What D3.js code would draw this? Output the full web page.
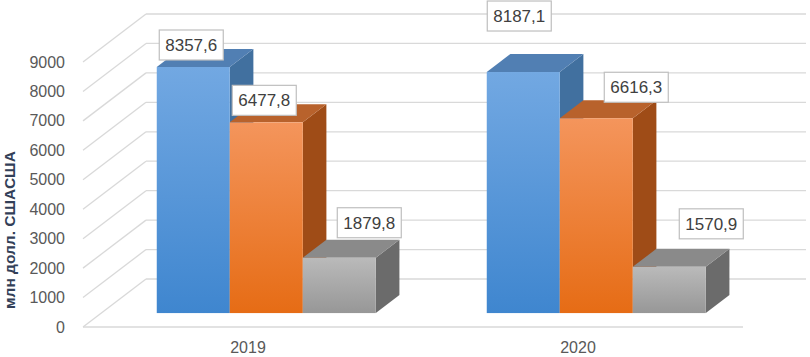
<!DOCTYPE html>
<html lang="ru">
<head>
<meta charset="UTF-8">
<title>3D column chart</title>
<style>
  body { margin: 0; background: #fff; }
  svg { display: block; font-family: "Liberation Sans", Arial, sans-serif; }
</style>
</head>
<body>
<svg id="chart" width="810" height="357"></svg>
<script src="https://d3js.org/d3.v7.min.js"></script>
<script>
// data
const years = ["2019", "2020"];
const seriesNames = ["s1", "s2", "s3"];
const values2019 = [8357.6, 6477.8, 1879.8];
const values2020 = [8187.1, 6616.3, 1570.9];
const yTicks = [0, 1000, 2000, 3000, 4000, 5000, 6000, 7000, 8000, 9000];
const yTitle = "млн долл. СШАСША";

// label nudges relative to bar top (labels were dragged by hand in the original)
const labelShift = [
  [[-2, -22], [-2, -22], [30, -35]],
  [[-4, -56], [40, -31], [42, -43]]
];

const rows = [values2019, values2020];

// colours per series: front gradient top/bottom, top face, side face
const palette = [
  { a: "#72a8e2", b: "#3f86cf", top: "#517fb3", side: "#41709f" },
  { a: "#f4955c", b: "#e66c15", top: "#b8622c", side: "#9f4c17" },
  { a: "#bababa", b: "#979797", top: "#8a8a8a", side: "#6b6b6b" }
];

const svg = d3.select("#chart");

// oblique projection: depth vector of the whole floor
const depth = { x: 63, y: -48 };
const barT0 = 0.29, barT1 = 0.665;

const x = d3.scaleBand().domain(years).range([83, 743]);
const xs = d3.scaleBand().domain(seriesNames).range([0, x.bandwidth()]).paddingOuter(0.76);
const y = d3.scaleLinear().domain([0, 9000]).range([327, 62]);

const P = (px, v, t) => [px + depth.x * t, y(v) + depth.y * t];

// gradients
const defs = svg.append("defs");
palette.forEach((c, i) => {
  const g = defs.append("linearGradient").attr("id", "g" + i)
    .attr("x1", 0).attr("y1", 0).attr("x2", 0).attr("y2", 1);
  g.append("stop").attr("offset", "0%").attr("stop-color", c.a);
  g.append("stop").attr("offset", "100%").attr("stop-color", c.b);
});

const grid = svg.append("g").attr("stroke", "#d9d9d9").attr("stroke-width", 1.3).attr("fill", "none");

// back wall gridlines
grid.selectAll(".back").data(yTicks).join("line")
  .attr("x1", P(83, 0, 1)[0]).attr("x2", P(743, 0, 1)[0])
  .attr("y1", d => P(0, d, 1)[1]).attr("y2", d => P(0, d, 1)[1]);

// side wall gridlines
grid.selectAll(".side").data(yTicks).join("line")
  .attr("x1", 83).attr("y1", d => y(d))
  .attr("x2", P(83, 0, 1)[0]).attr("y2", d => P(0, d, 1)[1]);

// floor front edge
grid.append("line").attr("x1", 83).attr("x2", 743).attr("y1", y(0)).attr("y2", y(0));

// y tick labels
svg.append("g").selectAll("text").data(yTicks).join("text")
  .attr("x", 65).attr("y", d => y(d)).attr("dy", "0.35em")
  .attr("text-anchor", "end").attr("font-size", 16).attr("fill", "#595959")
  .text(d => d);

// y title
svg.append("text")
  .attr("transform", `translate(15,230) rotate(-90)`)
  .attr("text-anchor", "middle").attr("font-size", 15.5).attr("font-weight", "bold")
  .attr("fill", "#333f58").text(yTitle);

// category labels
svg.append("g").selectAll("text").data(years).join("text")
  .attr("x", d => x(d) + x.bandwidth() / 2).attr("y", 347)
  .attr("dy", "0.35em").attr("text-anchor", "middle")
  .attr("font-size", 16).attr("fill", "#595959").text(d => d);

// bars
const pts = arr => arr.map(p => p.join(",")).join(" ");
const bars = svg.append("g");
years.forEach((yr, ci) => {
  seriesNames.forEach((s, si) => {
    const v = rows[ci][si];
    const x0 = x(yr) + xs(s), x1 = x0 + xs.bandwidth();
    const c = palette[si];
    // side face
    bars.append("polygon").attr("fill", c.side)
      .attr("points", pts([P(x1, 0, barT0), P(x1, 0, barT1), P(x1, v, barT1), P(x1, v, barT0)]));
    // top face
    bars.append("polygon").attr("fill", c.top)
      .attr("points", pts([P(x0, v, barT0), P(x0, v, barT1), P(x1, v, barT1), P(x1, v, barT0)]));
    // front face
    const f0 = P(x0, v, barT0), f1 = P(x1, 0, barT0);
    bars.append("rect").attr("x", f0[0]).attr("y", f0[1])
      .attr("width", f1[0] - f0[0]).attr("height", f1[1] - f0[1])
      .attr("fill", `url(#g${si})`);
  });
});

// data labels
const labels = svg.append("g");
years.forEach((yr, ci) => {
  seriesNames.forEach((s, si) => {
    const v = rows[ci][si];
    const cx = x(yr) + xs(s) + xs.bandwidth() / 2;
    const p = P(cx, v, barT0);
    const [dx, dy] = labelShift[ci][si];
    const g = labels.append("g").attr("transform", `translate(${p[0] + dx},${p[1] + dy})`);
    const rect = g.append("rect");
    const t = g.append("text").attr("text-anchor", "middle").attr("dy", "0.35em")
      .attr("font-size", 17).attr("fill", "#404040")
      .text(d3.format(".1f")(v).replace(".", ","));
    const bb = t.node().getBBox();
    rect.attr("x", bb.x - 6).attr("y", -15).attr("width", bb.width + 12).attr("height", 30)
      .attr("fill", "#fff").attr("stroke", "#bfbfbf").attr("stroke-width", 1.2);
  });
});
</script>
</body>
</html>
